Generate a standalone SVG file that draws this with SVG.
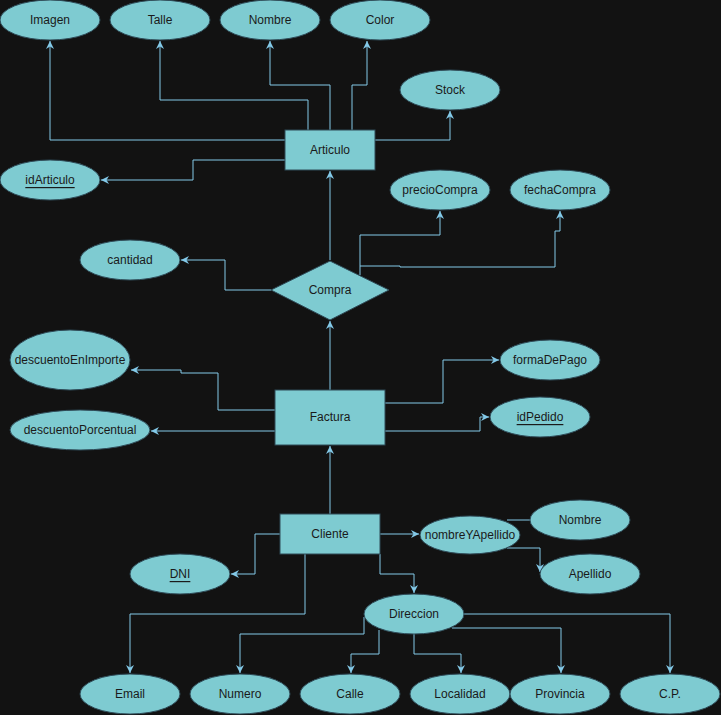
<svg xmlns="http://www.w3.org/2000/svg" width="721" height="715" viewBox="0 0 721 715">
<style>
.bg{fill:#121212}
.n{fill:#7ecbd1;stroke:#2e4a57;stroke-width:1}
.t{font-family:"Liberation Sans",Arial,sans-serif;font-size:12px;fill:#1a1a1a;text-anchor:middle;dominant-baseline:central}
.u{text-decoration:underline}
.c{fill:none;stroke:#83c9e8;stroke-width:1}
</style>
<defs>
<marker id="a" markerUnits="userSpaceOnUse" markerWidth="9" markerHeight="9" refX="8" refY="4.5" orient="auto">
<path d="M0,0.5 L8,4.5 L0,8.5 L2.5,4.5 z" fill="#83c9e8"/>
</marker>
</defs>
<rect class="bg" x="0" y="0" width="721" height="715"/>
<g id="connectors">
<path class="c" d="M285,140 H50 V41" marker-end="url(#a)"/>
<path class="c" d="M308,130 V100 H160 V41" marker-end="url(#a)"/>
<path class="c" d="M330,130 V85 H270 V41" marker-end="url(#a)"/>
<path class="c" d="M352,130 V85 H367 V41" marker-end="url(#a)"/>
<path class="c" d="M375,140 H450 V111" marker-end="url(#a)"/>
<path class="c" d="M285,160 H193 V180 H101" marker-end="url(#a)"/>
<path class="c" d="M330,260 V171" marker-end="url(#a)"/>
<path class="c" d="M271,290 H225 V260 H181" marker-end="url(#a)"/>
<path class="c" d="M360,275 V235 H440 V211" marker-end="url(#a)"/>
<path class="c" d="M360,266 H400 V267 H555 V231 H560 V211" marker-end="url(#a)"/>
<path class="c" d="M330,390 V321" marker-end="url(#a)"/>
<path class="c" d="M275,410 H218 V373 H181 V370 H131" marker-end="url(#a)"/>
<path class="c" d="M275,431 H151" marker-end="url(#a)"/>
<path class="c" d="M385,403 H443 V360 H499" marker-end="url(#a)"/>
<path class="c" d="M385,431 H480 V417 H489" marker-end="url(#a)"/>
<path class="c" d="M330,514 V446" marker-end="url(#a)"/>
<path class="c" d="M380,534 H419" marker-end="url(#a)"/>
<path class="c" d="M507,520 H531"/>
<path class="c" d="M507,548 H540 V572" marker-end="url(#a)"/>
<path class="c" d="M280,534 H255 V574 H231" marker-end="url(#a)"/>
<path class="c" d="M380,554 V574 H414 V593" marker-end="url(#a)"/>
<path class="c" d="M305,554 V614 H130 V673" marker-end="url(#a)"/>
<path class="c" d="M364,617 V634 H240 V673" marker-end="url(#a)"/>
<path class="c" d="M379,630 V654 H351 V673" marker-end="url(#a)"/>
<path class="c" d="M414,634 V654 H461 V673" marker-end="url(#a)"/>
<path class="c" d="M452,628 H561 V673" marker-end="url(#a)"/>
<path class="c" d="M464,614 H670 V673" marker-end="url(#a)"/>
</g>
<g id="imagen"><ellipse class="n" cx="50" cy="20" rx="50" ry="20"/><text class="t" x="50" y="20">Imagen</text></g>
<g id="talle"><ellipse class="n" cx="160" cy="20" rx="50" ry="20"/><text class="t" x="160" y="20">Talle</text></g>
<g id="nombre1"><ellipse class="n" cx="270" cy="20" rx="50" ry="20"/><text class="t" x="270" y="20">Nombre</text></g>
<g id="color"><ellipse class="n" cx="380" cy="20" rx="50" ry="20"/><text class="t" x="380" y="20">Color</text></g>
<g id="stock"><ellipse class="n" cx="450" cy="90" rx="50" ry="20"/><text class="t" x="450" y="90">Stock</text></g>
<g id="articulo"><rect class="n" x="285" y="130" width="90" height="40"/><text class="t" x="330" y="150">Articulo</text></g>
<g id="idArticulo"><ellipse class="n" cx="50" cy="180" rx="50" ry="20"/><text class="t u" x="50" y="180">idArticulo</text></g>
<g id="precioCompra"><ellipse class="n" cx="440" cy="190" rx="50" ry="20"/><text class="t" x="440" y="190">precioCompra</text></g>
<g id="fechaCompra"><ellipse class="n" cx="560" cy="190" rx="50" ry="20"/><text class="t" x="560" y="190">fechaCompra</text></g>
<g id="cantidad"><ellipse class="n" cx="130" cy="260" rx="50" ry="20"/><text class="t" x="130" y="260">cantidad</text></g>
<g id="compra"><polygon class="n" points="271,290 330,261 389,290 330,320"/><text class="t" x="330" y="290">Compra</text></g>
<g id="descuentoEnImporte"><ellipse class="n" cx="70" cy="360" rx="60" ry="30"/><text class="t" x="70" y="360">descuentoEnImporte</text></g>
<g id="formaDePago"><ellipse class="n" cx="550" cy="360" rx="50" ry="20"/><text class="t" x="550" y="360">formaDePago</text></g>
<g id="factura"><rect class="n" x="275" y="390" width="110" height="55"/><text class="t" x="330" y="417">Factura</text></g>
<g id="descuentoPorcentual"><ellipse class="n" cx="80" cy="430" rx="70" ry="20"/><text class="t" x="80" y="430">descuentoPorcentual</text></g>
<g id="idPedido"><ellipse class="n" cx="540" cy="417" rx="50" ry="20"/><text class="t u" x="540" y="417">idPedido</text></g>
<g id="cliente"><rect class="n" x="280" y="514" width="100" height="40"/><text class="t" x="330" y="534">Cliente</text></g>
<g id="nombreYApellido"><ellipse class="n" cx="470" cy="535" rx="50" ry="19"/><text class="t" x="470" y="535">nombreYApellido</text></g>
<g id="nombre2"><ellipse class="n" cx="580" cy="520" rx="50" ry="20"/><text class="t" x="580" y="520">Nombre</text></g>
<g id="apellido"><ellipse class="n" cx="590" cy="574" rx="50" ry="20"/><text class="t" x="590" y="574">Apellido</text></g>
<g id="dni"><ellipse class="n" cx="180" cy="574" rx="50" ry="20"/><text class="t u" x="180" y="574">DNI</text></g>
<g id="direccion"><ellipse class="n" cx="414" cy="614" rx="50" ry="20"/><text class="t" x="414" y="614">Direccion</text></g>
<g id="email"><ellipse class="n" cx="130" cy="694" rx="50" ry="20"/><text class="t" x="130" y="694">Email</text></g>
<g id="numero"><ellipse class="n" cx="240" cy="694" rx="50" ry="20"/><text class="t" x="240" y="694">Numero</text></g>
<g id="calle"><ellipse class="n" cx="350" cy="694" rx="50" ry="20"/><text class="t" x="350" y="694">Calle</text></g>
<g id="localidad"><ellipse class="n" cx="460" cy="694" rx="50" ry="20"/><text class="t" x="460" y="694">Localidad</text></g>
<g id="provincia"><ellipse class="n" cx="560" cy="694" rx="50" ry="20"/><text class="t" x="560" y="694">Provincia</text></g>
<g id="cp"><ellipse class="n" cx="670" cy="694" rx="50" ry="20"/><text class="t" x="670" y="694">C.P.</text></g>
</svg>
